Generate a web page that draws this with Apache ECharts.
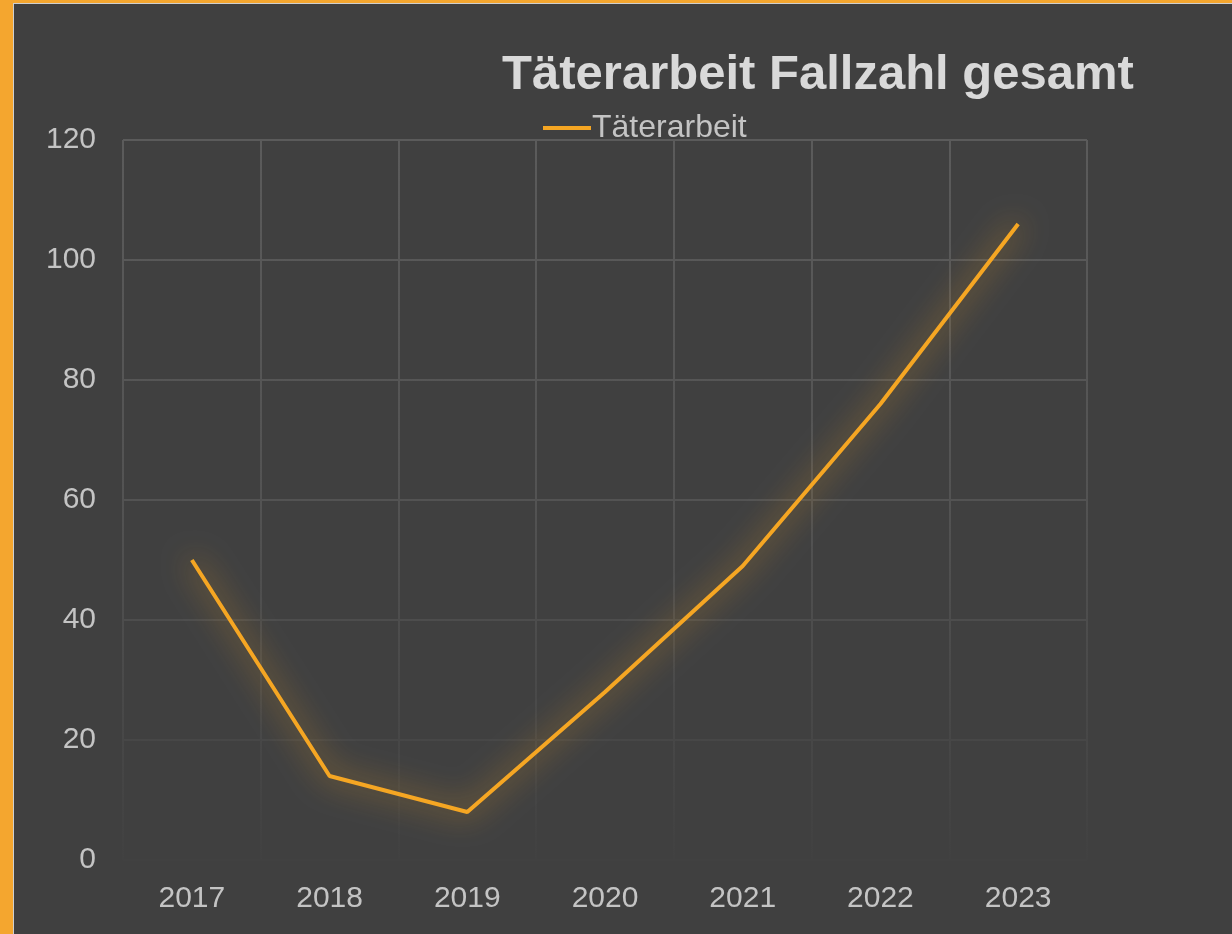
<!DOCTYPE html>
<html>
<head>
<meta charset="utf-8">
<script src="https://cdn.jsdelivr.net/npm/echarts@6/dist/echarts.min.js"></script>
<style>
    html, body { margin: 0; padding: 0; background: #404040; }
    #chart { position: absolute; left: 0; top: 0; width: 1232px; height: 934px; }
    /* orange frame on left and top, thin light line inside */
    #frame {
        position: absolute; left: 0; top: 0; width: 1232px; height: 934px;
        box-sizing: border-box;
        border-left: 13px solid #f4a62f;
        border-top: 3px solid #f4a62f;
        pointer-events: none;
    }
    #frame::after {
        content: ''; position: absolute; left: 0; top: 0; right: 0; bottom: 0;
        border-left: 1px solid #cfcfcf; border-top: 1px solid #cfcfcf;
    }
</style>
</head>
<body>
<div id="chart"></div>
<div id="frame"></div>
<script>
// Daten
const years = ['2017', '2018', '2019', '2020', '2021', '2022', '2023']
const taeterarbeit = [50, 14, 8, 28, 49, 76, 106]
const seriesName = 'Täterarbeit'
const titleText = 'Täterarbeit Fallzahl gesamt'

let myChart = echarts.init(document.getElementById('chart'))

// Gitterlinien werden nach unten hin blasser
let gridColor = new echarts.graphic.LinearGradient(0, 140, 0, 860, [
    { offset: 0, color: '#5b5b5b' },
    { offset: 0.5, color: '#535353' },
    { offset: 1, color: '#414141' }
], true)

myChart.setOption({
    backgroundColor: '#404040',
    textStyle: { fontFamily: 'Liberation Sans, Arial, sans-serif' },
    title: {
        text: titleText,
        left: 813,
        textAlign: 'center',
        top: 46,
        textStyle: {
            color: '#d9d9d9',
            fontSize: 49,
            fontWeight: 'bold'
        }
    },
    legend: {
        data: [seriesName],
        left: 538,
        top: 107,
        icon: 'rect',
        itemWidth: 48,
        itemHeight: 4,
        itemGap: 0,
        textStyle: {
            color: '#c4c4c4',
            fontSize: 32,
            padding: [0, 0, 0, -4]
        }
    },
    grid: {
        left: 123,
        right: 145,
        top: 140,
        bottom: 74,
        containLabel: false
    },
    xAxis: {
        type: 'category',
        data: years,
        boundaryGap: true,
        axisLine: { show: false },
        axisTick: { show: false },
        axisLabel: {
            color: '#c4c4c4',
            fontSize: 30,
            margin: 24
        },
        splitLine: {
            show: true,
            lineStyle: { color: gridColor, width: 2 }
        }
    },
    yAxis: {
        type: 'value',
        min: 0,
        max: 120,
        interval: 20,
        axisLine: { show: false },
        axisTick: { show: false },
        axisLabel: {
            color: '#c4c4c4',
            fontSize: 30,
            margin: 27
        },
        splitLine: {
            lineStyle: { color: gridColor, width: 2 }
        }
    },
    series: [{
        name: seriesName,
        type: 'line',
        data: taeterarbeit,
        symbol: 'none',
        color: '#f5a623',
        lineStyle: {
            width: 4,
            color: '#f5a623',
            shadowBlur: 30,
            shadowColor: 'rgba(245, 166, 35, 0.95)'
        },
        animation: false
    }]
})
</script>
</body>
</html>
